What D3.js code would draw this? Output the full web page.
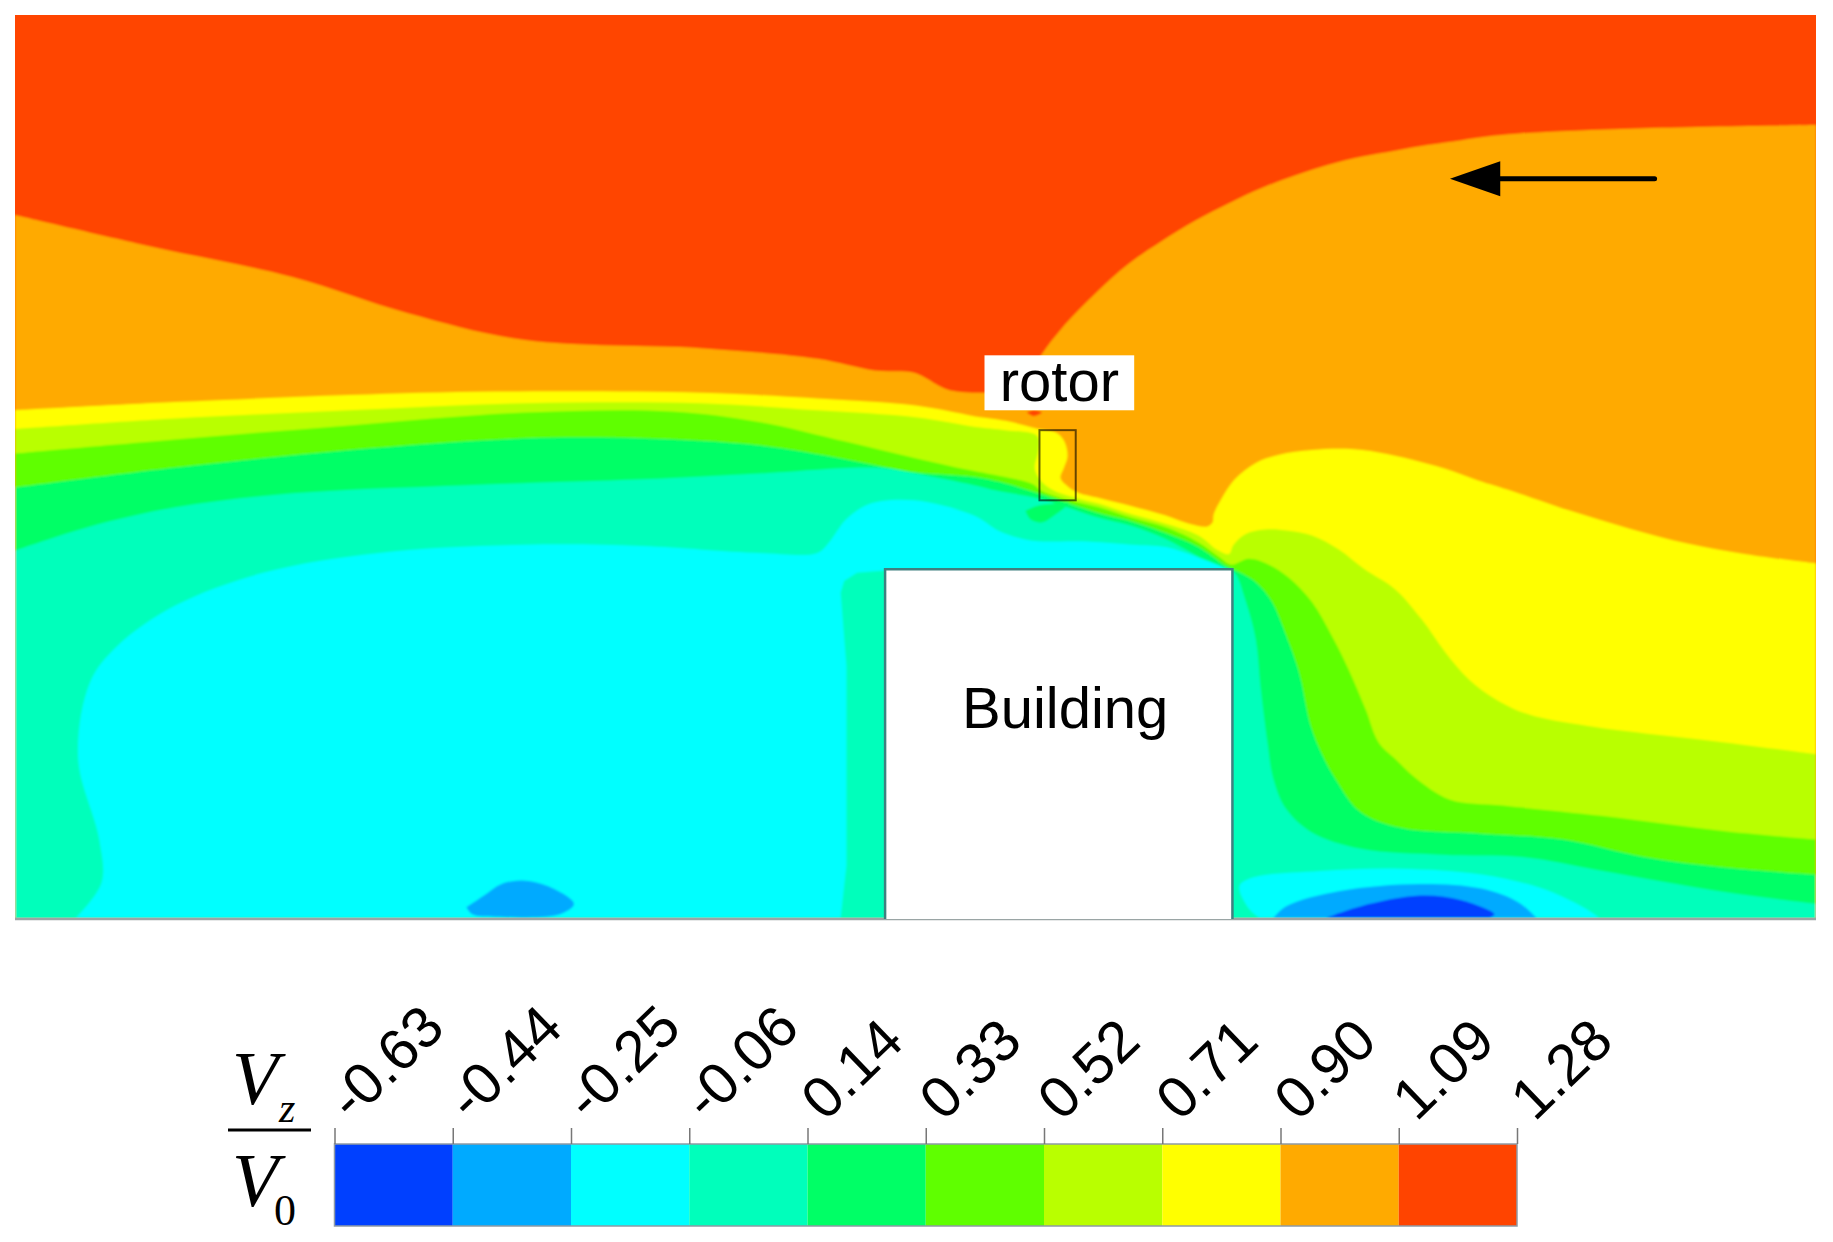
<!DOCTYPE html>
<html>
<head>
<meta charset="utf-8">
<script src="https://cdn.jsdelivr.net/npm/d3@7"></script>
<style>
	html, body { margin: 0; padding: 0; background: #fff; }
	svg { display: block; }
	text { font-family: "Liberation Sans", Arial, sans-serif; fill: #000; }
	.math { font-family: "Liberation Serif", "Times New Roman", serif; }
</style>
</head>
<body>
<div class="chart"></div>
<script>
var WIDTH = 1833,
	HEIGHT = 1242;

// contour levels of Vz/V0 and their fill colours, low to high
var levelLabels = ["-0.63", "-0.44", "-0.25", "-0.06", "0.14", "0.33", "0.52", "0.71", "0.90", "1.09", "1.28"];
var levelColors = ["#0040ff", "#00aaff", "#00ffff", "#00ffbb", "#00ff66", "#5fff00", "#b9ff00", "#ffff00", "#ffaa00", "#ff4400"];

// contour edges, x along the field, y down from the top
var edge109 = [[13,184],[125,210],[250,237],[349,268],[449,291],[599,298],[699,307],[748,317],[782,319],[803,330],[813,334],[840,336],[862,334],[880,322],[891,303],[908,281],[937,251],[965,226],[994,206],[1022,189],[1051,174],[1079,161],[1108,150],[1136,141],[1165,134],[1193,129],[1222,124],[1250,120],[1290,115],[1400,110],[1553,107]];
var edge090 = [[13,351],[150,344],[299,338],[424,335],[599,336],[699,341],[783,347],[833,356],[860,360],[888,367],[903,370],[910,377],[913,390],[910,400],[907,409],[913,416],[921,421],[940,426],[968,433],[997,441],[1017,448],[1032,450.5],[1037,447],[1038,440],[1045,426],[1056,410],[1074,396],[1094,389],[1122,385],[1151,384],[1179,387],[1207,393],[1236,401],[1264,411],[1293,420],[1343,437],[1393,452],[1443,465],[1493,474],[1553,482]];
var edge071 = [[13,367],[150,358],[299,351],[449,345],[599,345],[699,351],[783,357],[833,365],[860,368],[887,373],[888,385],[885,401],[890,411],[900,419],[920,426],[940,431],[968,440],[997,448],[1025,458],[1042,471],[1051,474],[1055,466],[1065,457],[1082,453],[1102,454],[1122,458],[1145,470],[1167,487],[1193,504],[1216,530],[1236,558],[1256,581],[1279,598],[1307,611],[1358,621],[1475,635],[1553,645]];
var edge052 = [[13,388],[150,376],[299,364],[449,353],[574,352],[649,361],[724,378],[783,392],[833,403],[854,407],[883,414],[891,420],[911,427],[940,434],[968,443],[997,451],[1025,464],[1042,476],[1053,483],[1068,478],[1085,483],[1102,494],[1122,515],[1139,544],[1153,572],[1168,607],[1179,635],[1193,649],[1210,665],[1240,684],[1285,689],[1371,698],[1475,711],[1553,718]];
var edge033 = [[13,417],[150,400],[299,385],[449,375],[549,375],[649,381],[724,393],[783,404],[833,408],[854,412],[891,423],[940,439],[968,446],[997,456],[1025,468],[1048,484],[1055,487],[1074,498],[1088,515],[1099,541],[1111,575],[1121,621],[1131,646],[1142,666],[1163,694],[1198,708],[1267,713],[1337,718],[1406,733],[1475,742],[1553,748]];
var edge014 = [[13,471],[75,451],[150,434],[250,422],[399,415],[549,410],[649,405],[748,400],[783,405],[833,415],[854,420],[891,427],[940,443],[968,450],[997,461],[1025,476],[1048,486],[1056,490],[1065,513],[1074,547],[1078,587],[1084,635],[1089,666],[1100,692],[1122,712],[1164,726],[1233,731],[1302,733],[1371,745],[1475,763],[1553,773]];
var cyanLeftEdge = [[65,785],[87,755],[85,718],[67,649],[77,584],[100,553],[150,518],[225,490],[324,473],[449,466],[549,467],[649,473],[699,473],[709,464],[724,444],[744,431],[782,428],[833,441],[854,454],[871,460],[888,463],[925,463],[968,466],[997,468],[1025,477],[1051,487]];
var cyanLeftFoot = [[757,487],[756,488],[733,490],[722,497],[719,507],[724,570],[724,740],[719,785]];
var cyanRightEdge = [[1077,785],[1068,777],[1060,758],[1070,751],[1129,745],[1198,743],[1267,748],[1319,760],[1354,776],[1368,785]];
var lowLeftEdge = [[399,776],[414,766],[429,756],[447,753],[469,758],[491,773],[479,782],[424,784],[404,782],[399,776]];
var lowRightEdge = [[1089,785],[1100,775],[1146,762],[1215,756],[1267,760],[1299,772],[1314,785]];
var lowestEdge = [[1134,785],[1164,775],[1215,766],[1250,770],[1278,782],[1274,785]];
var wakeBlobEdge = [[877,437],[886,433],[900,431],[914,430],[903,440],[891,447],[881,444],[877,437]];
var tipSpotEdge = [[878,353],[884,351],[891,353],[884,356],[878,353]];

var fieldDomainX = [13, 1553],
	fieldDomainY = [13, 786];

var buildingX = [757, 1054],
	buildingY = [487, 786],
	rotorX = [889, 920],
	rotorY = [368, 428],
	rotorLabel = [842, 970, 304, 351],
	arrow = { from: 1415, neck: 1283, tip: 1240, y: 153, half: 15 };

var xScale = d3.scaleLinear().domain(fieldDomainX).range([15, 1816]);
var yScale = d3.scaleLinear().domain(fieldDomainY).range([15, 919]);

var edgeLine = d3.line()
	.curve(d3.curveCatmullRom.alpha(0.5))
	.x(function(d) { return xScale(d[0]); })
	.y(function(d) { return yScale(d[1]); });

// a region is a smooth edge, closed with straight pieces along its foot
var regionPath = function(edge, foot) {
	var closing = foot.map(function(d) {
		return "L" + xScale(d[0]) + "," + yScale(d[1]);
	}).join("");
	return edgeLine(edge) + closing + "Z";
};

var bottomFoot = [[1553, 786], [13, 786]];

var generateField = function(svg) {
	var defs = svg.append("defs");
	defs.append("clipPath").attr("id", "clip")
		.append("rect")
		.attr("x", xScale(13))
		.attr("y", yScale(13))
		.attr("width", xScale(1553) - xScale(13))
		.attr("height", yScale(786) - yScale(13));
	defs.append("filter").attr("id", "soft")
		.attr("x", "-2%").attr("y", "-2%").attr("width", "104%").attr("height", "104%")
		.append("feGaussianBlur").attr("stdDeviation", 1.1);

	var regions = [
		{ d: regionPath(edge109, bottomFoot), fill: levelColors[8] },
		{ d: regionPath(edge090, bottomFoot), fill: levelColors[7] },
		{ d: regionPath(edge071, bottomFoot), fill: levelColors[6] },
		{ d: regionPath(edge052, bottomFoot), fill: levelColors[5] },
		{ d: regionPath(edge033, bottomFoot), fill: levelColors[4] },
		{ d: regionPath(edge014, bottomFoot), fill: levelColors[3] },
		{ d: regionPath(wakeBlobEdge, []), fill: levelColors[4] },
		{ d: regionPath(cyanLeftEdge, cyanLeftFoot), fill: levelColors[2] },
		{ d: regionPath(cyanRightEdge, []), fill: levelColors[2] },
		{ d: regionPath(lowLeftEdge, []), fill: levelColors[1] },
		{ d: regionPath(lowRightEdge, []), fill: levelColors[1] },
		{ d: regionPath(lowestEdge, []), fill: levelColors[0] },
		{ d: regionPath(tipSpotEdge, []), fill: levelColors[9] }
	];

	var clipped = svg.append("g").attr("clip-path", "url(#clip)");
	var field = clipped.append("g").attr("filter", "url(#soft)");

	field.append("rect")
		.attr("x", 0)
		.attr("y", 0)
		.attr("width", WIDTH)
		.attr("height", HEIGHT)
		.attr("fill", levelColors[9]);

	field.selectAll("path")
		.data(regions)
		.enter()
		.append("path")
		.attr("d", function(d) { return d.d; })
		.attr("fill", function(d) { return d.fill; });

	// ground line
	svg.append("line")
		.attr("x1", xScale(13))
		.attr("x2", xScale(1553))
		.attr("y1", yScale(786))
		.attr("y2", yScale(786))
		.attr("stroke", "#9aa5a5")
		.attr("stroke-width", 2.5);
};

var generateMarkup = function(svg) {
	svg.append("rect")
		.attr("x", xScale(buildingX[0]))
		.attr("y", yScale(buildingY[0]))
		.attr("width", xScale(buildingX[1]) - xScale(buildingX[0]))
		.attr("height", yScale(buildingY[1]) - yScale(buildingY[0]))
		.attr("fill", "#fff");
	svg.append("path")
		.attr("d", "M" + xScale(buildingX[0]) + "," + yScale(buildingY[1]) +
			"V" + yScale(buildingY[0]) +
			"H" + xScale(buildingX[1]) +
			"V" + yScale(buildingY[1]))
		.attr("fill", "none")
		.attr("stroke", "#3f8080")
		.attr("stroke-width", 2.5);

	svg.append("text")
		.attr("x", xScale(911))
		.attr("y", yScale(623))
		.attr("text-anchor", "middle")
		.attr("font-size", 58)
		.text("Building");

	svg.append("rect")
		.attr("x", xScale(rotorX[0]))
		.attr("y", yScale(rotorY[0]))
		.attr("width", xScale(rotorX[1]) - xScale(rotorX[0]))
		.attr("height", yScale(rotorY[1]) - yScale(rotorY[0]))
		.attr("fill", "none")
		.attr("stroke", "#000")
		.attr("stroke-opacity", 0.6)
		.attr("stroke-width", 2);

	svg.append("rect")
		.attr("x", xScale(rotorLabel[0]))
		.attr("y", yScale(rotorLabel[2]))
		.attr("width", xScale(rotorLabel[1]) - xScale(rotorLabel[0]))
		.attr("height", yScale(rotorLabel[3]) - yScale(rotorLabel[2]))
		.attr("fill", "#fff");
	svg.append("text")
		.attr("x", xScale(906))
		.attr("y", yScale(343))
		.attr("text-anchor", "middle")
		.attr("font-size", 58)
		.text("rotor");

	// wind direction
	svg.append("line")
		.attr("x1", xScale(arrow.from))
		.attr("x2", xScale(arrow.neck))
		.attr("y1", yScale(arrow.y))
		.attr("y2", yScale(arrow.y))
		.attr("stroke", "#000")
		.attr("stroke-width", 5)
		.attr("stroke-linecap", "round");
	svg.append("path")
		.attr("d", "M" + xScale(arrow.tip) + "," + yScale(arrow.y) +
			"L" + xScale(arrow.neck) + "," + yScale(arrow.y - arrow.half) +
			"V" + yScale(arrow.y + arrow.half) + "Z")
		.attr("fill", "#000");
};

var generateLegend = function(svg) {
	var barTop = 1144,
		barBottom = 1226;

	var legendScale = d3.scalePoint()
		.domain(levelLabels)
		.range([334.5, 1517]);

	var bar = svg.append("g");
	bar.selectAll("rect")
		.data(levelColors)
		.enter()
		.append("rect")
		.attr("x", function(d, i) { return legendScale(levelLabels[i]); })
		.attr("y", barTop)
		.attr("width", legendScale.step())
		.attr("height", barBottom - barTop)
		.attr("fill", function(d) { return d; });
	bar.append("rect")
		.attr("x", legendScale.range()[0])
		.attr("y", barTop)
		.attr("width", legendScale.range()[1] - legendScale.range()[0])
		.attr("height", barBottom - barTop)
		.attr("fill", "none")
		.attr("stroke", "#8f9aa5")
		.attr("stroke-width", 1.5);

	var legendAxis = d3.axisTop(legendScale)
		.tickSize(16)
		.tickPadding(0);

	var axisGroup = svg.append("g")
		.attr("transform", "translate(0," + barTop + ")")
		.call(legendAxis);
	axisGroup.select(".domain").remove();
	axisGroup.selectAll(".tick line")
		.attr("stroke", "#777")
		.attr("stroke-width", 1.5);
	axisGroup.selectAll(".tick text")
		.attr("font-family", "Liberation Sans")
		.attr("font-size", 58)
		.attr("fill", "#000")
		.attr("text-anchor", "start")
		.attr("dy", 0)
		.attr("transform", "translate(28,-10) rotate(-44)");

	// Vz / V0 fraction
	var frac = svg.append("g");
	frac.append("text").attr("class", "math")
		.attr("x", 232).attr("y", 1104)
		.attr("font-size", 76).attr("font-style", "italic")
		.text("V");
	frac.append("text").attr("class", "math")
		.attr("x", 279).attr("y", 1122)
		.attr("font-size", 42).attr("font-style", "italic")
		.text("z");
	frac.append("line")
		.attr("x1", 228).attr("x2", 311)
		.attr("y1", 1130).attr("y2", 1130)
		.attr("stroke", "#000").attr("stroke-width", 3);
	frac.append("text").attr("class", "math")
		.attr("x", 232).attr("y", 1206)
		.attr("font-size", 76).attr("font-style", "italic")
		.text("V");
	frac.append("text").attr("class", "math")
		.attr("x", 274).attr("y", 1225)
		.attr("font-size", 44)
		.text("0");
};

var svg = d3.select(".chart").append("svg")
	.attr("width", WIDTH)
	.attr("height", HEIGHT);

generateField(svg);
generateMarkup(svg);
generateLegend(svg);
</script>
</body>
</html>
